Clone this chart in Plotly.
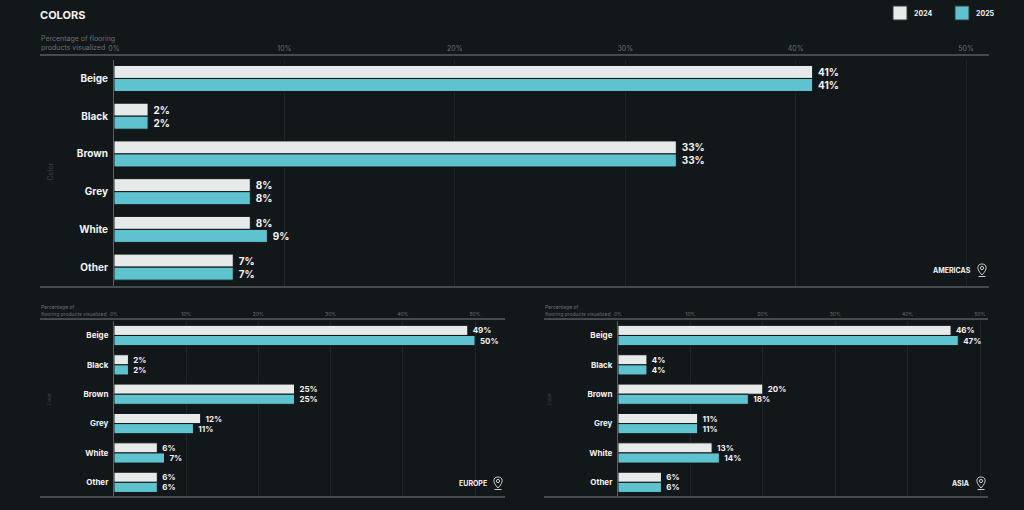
import plotly.graph_objects as go

categories = ["Beige", "Black", "Brown", "Grey", "White", "Other"]
years = ["2024", "2025"]

americas_2024 = [41, 2, 33, 8, 8, 7]
americas_2025 = [41, 2, 33, 8, 9, 7]
europe_2024 = [49, 2, 25, 12, 6, 6]
europe_2025 = [50, 2, 25, 11, 7, 6]
asia_2024 = [46, 4, 20, 11, 13, 6]
asia_2025 = [47, 4, 18, 11, 14, 6]

tick_vals = [0, 10, 20, 30, 40, 50]
tick_text = ["0%", "10%", "20%", "30%", "40%", "50%"]

W, H = 1024, 510
BG = "#121719"
C_2024 = "#e6eae8"
C_2025 = "#5fc3cf"
LINE = "#454a4d"
GRID = "#1f2629"
DIM = "#6a7073"
FONT = "Inter"


def px(x):
    return x / W


def py(y):
    return 1 - y / H


fig = go.Figure()

# panel: (suffix, data24, data25, x0px, x1px, y0px, y1px, xmax, region, big)
panels = [
    ("", americas_2024, americas_2025, 114, 989, 59.6, 286, 51.35, "AMERICAS", True),
    ("2", europe_2024, europe_2025, 114, 505, 320.8, 497, 54.15, "EUROPE", False),
    ("3", asia_2024, asia_2025, 618, 988, 320.8, 497, 51.1, "ASIA", False),
]

for i, (sfx, d24, d25, x0, x1, y0, y1, xmax, region, big) in enumerate(panels):
    xa = "x" + sfx
    ya = "y" + sfx
    tsize = 10 if big else 8
    for name, vals, col in [(years[0], d24, C_2024), (years[1], d25, C_2025)]:
        fig.add_trace(go.Bar(
            y=categories, x=vals, orientation="h", name=name,
            xaxis=xa, yaxis=ya, showlegend=False,
            marker=dict(color=col, line=dict(color=BG, width=1)),
            text=["\u00a0" + f"{v}%" for v in vals], textposition="outside",
            textfont=dict(family=FONT, size=tsize, color="#f2f4f3", weight="bold"),
            cliponaxis=False, hoverinfo="x+y",
        ))
    key = "" if sfx == "" else sfx
    fig.layout["xaxis" + key] = dict(
        domain=[px(x0), px(x1)], range=[0, xmax], anchor=ya, side="top",
        tickvals=tick_vals, ticktext=tick_text, showgrid=True, gridcolor=GRID,
        gridwidth=1, zeroline=False, showline=False, ticks="",
        tickfont=dict(family=FONT, size=7 if big else 5, color=DIM),
        ticklabelstandoff=6 if big else 3, fixedrange=True, automargin=False,
    )
    fig.layout["yaxis" + key] = dict(
        domain=[py(y1), py(y0)], anchor=xa, autorange="reversed",
        showline=True, linecolor="#5a5f62", linewidth=1, showgrid=False,
        ticks="outside", ticklen=3, tickcolor="rgba(0,0,0,0)",
        tickfont=dict(family=FONT, size=10 if big else 8, color="#f2f4f3", weight="bold"),
        fixedrange=True, automargin=False,
    )

fig.update_layout(barmode="group", bargap=0.31, bargroupgap=0.0)

shapes = []
annotations = []

# frame lines above and below each panel
for (lx0, lx1, ytop, ybot) in [(40, 989, 55, 287), (40, 505, 319, 497), (544, 988, 319, 497)]:
    for yy in (ytop, ybot):
        shapes.append(dict(type="line", xref="paper", yref="paper",
                           x0=px(lx0), x1=px(lx1), y0=py(yy), y1=py(yy),
                           line=dict(color=LINE, width=2)))

# axis titles
annotations.append(dict(text="Percentage of flooring<br>products visualized", x=px(39), y=py(43),
                        xref="paper", yref="paper", xanchor="left", yanchor="middle", align="left",
                        showarrow=False, font=dict(family=FONT, size=7, color=DIM)))
for ax in (39, 543):
    annotations.append(dict(text="Percentage of<br>flooring products visualized", x=px(ax), y=py(310),
                            xref="paper", yref="paper", xanchor="left", yanchor="middle", align="left",
                            showarrow=False, font=dict(family=FONT, size=5, color=DIM)))
for (cx, cy, fs) in [(43, 172, 7), (43, 408, 5), (548, 408, 5)]:
    annotations.append(dict(text="Color", x=px(cx), y=py(cy), xref="paper", yref="paper",
                            textangle=-90, showarrow=False,
                            font=dict(family=FONT, size=fs, color="#3c4245")))

# region tags with pin icons
for (label, rx, ry) in [("AMERICAS", 973, 270), ("EUROPE", 489, 483), ("ASIA", 972, 483)]:
    annotations.append(dict(text=label, x=px(rx), y=py(ry), xref="paper", yref="paper",
                            xanchor="right", yanchor="middle", showarrow=False,
                            font=dict(family=FONT, size=7, color="#f2f4f3", weight="bold")))
    cx, cy = rx + 9, ry - 1
    path = (f"M{px(cx)},{py(cy + 6)} "
            f"C{px(cx - 6)},{py(cy)} {px(cx - 5)},{py(cy - 5)} {px(cx)},{py(cy - 5)} "
            f"C{px(cx + 5)},{py(cy - 5)} {px(cx + 6)},{py(cy)} {px(cx)},{py(cy + 6)} Z")
    shapes.append(dict(type="path", xref="paper", yref="paper", path=path,
                       line=dict(color="#c9cdcc", width=1)))
    shapes.append(dict(type="circle", xref="paper", yref="paper",
                       x0=px(cx - 1.6), x1=px(cx + 1.6), y0=py(cy - 2.6), y1=py(cy + 0.6),
                       line=dict(color="#c9cdcc", width=1)))
    shapes.append(dict(type="line", xref="paper", yref="paper",
                       x0=px(cx - 3.5), x1=px(cx + 3.5), y0=py(cy + 7.5), y1=py(cy + 7.5),
                       line=dict(color="#c9cdcc", width=1)))

# legend
for (lx, name, col) in [(893, years[0], C_2024), (955, years[1], C_2025)]:
    shapes.append(dict(type="rect", xref="paper", yref="paper",
                       x0=px(lx), x1=px(lx + 14), y0=py(20), y1=py(6),
                       fillcolor=col, line=dict(color="#30373a", width=1)))
    annotations.append(dict(text=name, x=px(lx + 19), y=py(13), xref="paper", yref="paper",
                            xanchor="left", yanchor="middle", showarrow=False,
                            font=dict(family=FONT, size=7, color="#f2f4f3", weight="bold")))

# title
annotations.append(dict(text="COLORS", x=px(38), y=py(15), xref="paper", yref="paper",
                        xanchor="left", yanchor="middle", showarrow=False,
                        font=dict(family=FONT, size=11, color="#f2f4f3", weight="bold")))

fig.update_layout(
    width=W, height=H, margin=dict(l=0, r=0, t=0, b=0, pad=0),
    plot_bgcolor=BG, paper_bgcolor=BG,
    shapes=shapes, annotations=annotations,
    font=dict(family=FONT, color="#f2f4f3"),
)

fig.write_html("out.html", config={"displayModeBar": False},
               post_script="document.body.style.margin='0';"
               "document.body.style.overflow='hidden';"
               "document.body.style.background='#121719';")
